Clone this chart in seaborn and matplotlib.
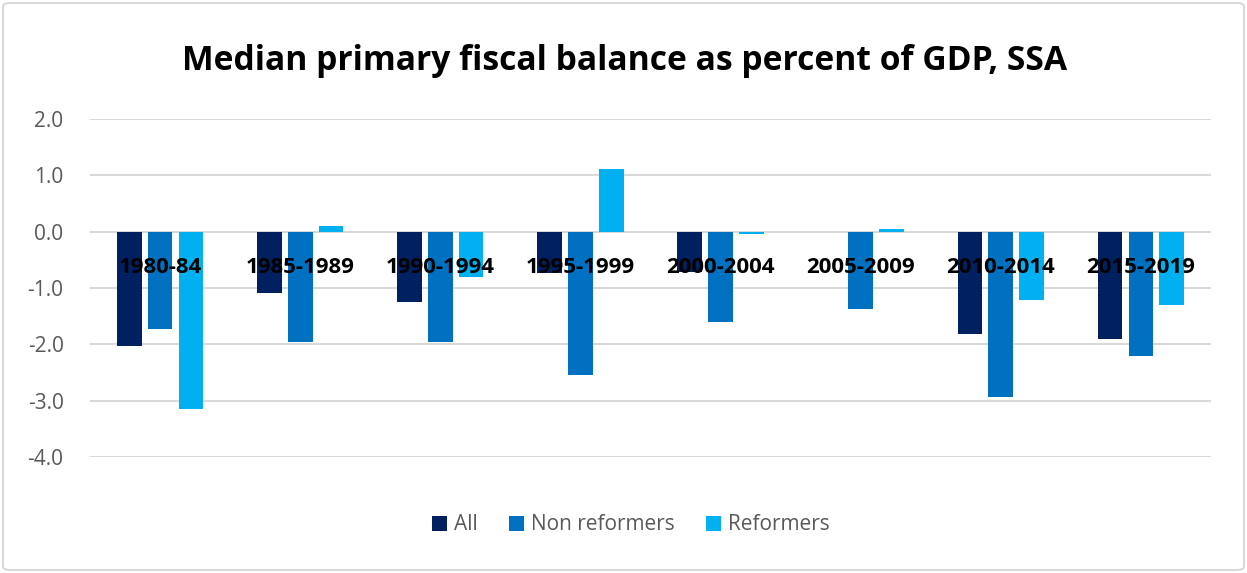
import numpy as np
import pandas as pd
import matplotlib
matplotlib.use("Agg")
import matplotlib.pyplot as plt
from matplotlib.patches import FancyBboxPatch
import seaborn as sns

periods = ["1980-84", "1985-1989", "1990-1994", "1995-1999",
           "2000-2004", "2005-2009", "2010-2014", "2015-2019"]
all_vals = [-2.03, -1.08, -1.24, -0.74, -0.72, np.nan, -1.82, -1.91]
non_reformers = [-1.72, -1.96, -1.96, -2.55, -1.61, -1.37, -2.94, -2.21]
reformers = [-3.14, 0.10, -0.80, 1.11, -0.04, 0.05, -1.22, -1.30]
series_names = ["All", "Non reformers", "Reformers"]
y_ticks = [2.0, 1.0, 0.0, -1.0, -2.0, -3.0, -4.0]
title = "Median primary fiscal balance as percent of GDP, SSA"

colors = ["#002060", "#0070C0", "#00B0F0"]

df = pd.DataFrame({
    "period": periods * 3,
    "series": sum([[n] * len(periods) for n in series_names], []),
    "value": all_vals + non_reformers + reformers,
})

sns.set_theme(style="white")
plt.rcParams["font.family"] = ["Open Sans", "DejaVu Sans"]

W, H = 1247, 573
fig = plt.figure(figsize=(W / 100, H / 100), dpi=100)
ax = fig.add_axes([90 / W, 1 - 457 / H, (1211 - 90) / W, (457 - 119) / H])

sns.barplot(data=df, x="period", y="value", hue="series", order=periods,
            hue_order=series_names, palette=colors, width=0.66, gap=0.2,
            linewidth=0, saturation=1, ax=ax, zorder=2)

ax.set_ylim(-4, 2)
ax.set_xlim(-0.5, len(periods) - 0.5)
ax.set_yticks(y_ticks)
ax.set_yticklabels([f"{v:.1f}" for v in y_ticks])
ax.yaxis.grid(True, color="#D9D9D9", linewidth=1.5)
ax.xaxis.grid(False)
ax.yaxis.set_zorder(0.5)
ax.xaxis.set_zorder(5)
for s in ax.spines.values():
    s.set_visible(False)
ax.spines["bottom"].set_position(("data", 0))
ax.set_xlabel("")
ax.set_ylabel("")
ax.tick_params(axis="y", length=0, pad=19, labelsize=15, labelcolor="#595959")
ax.tick_params(axis="x", length=0, pad=18, labelsize=16, labelcolor="black")
for lbl in ax.get_xticklabels():
    lbl.set_fontweight("bold")

handles, labels = ax.get_legend_handles_labels()
ax.get_legend().remove()
fig.legend(handles, labels, loc="center", bbox_to_anchor=(631 / W, 1 - 525 / H),
           ncol=3, frameon=False, handlelength=0.7, handleheight=0.7,
           columnspacing=1.5, handletextpad=0.35, fontsize=15,
           labelcolor="#595959")

fig.text(625 / W, 1 - 61 / H, title, ha="center", va="center",
         fontsize=24.2, fontweight="bold", color="black")

fig.patches.append(FancyBboxPatch((3 / W, 3 / H), (W - 6) / W, (H - 6) / H,
                                  boxstyle="round,pad=0,rounding_size=0.006",
                                  transform=fig.transFigure, facecolor="none",
                                  edgecolor="#D9D9D9", linewidth=1.5))

fig.savefig("out.png", dpi=100)
